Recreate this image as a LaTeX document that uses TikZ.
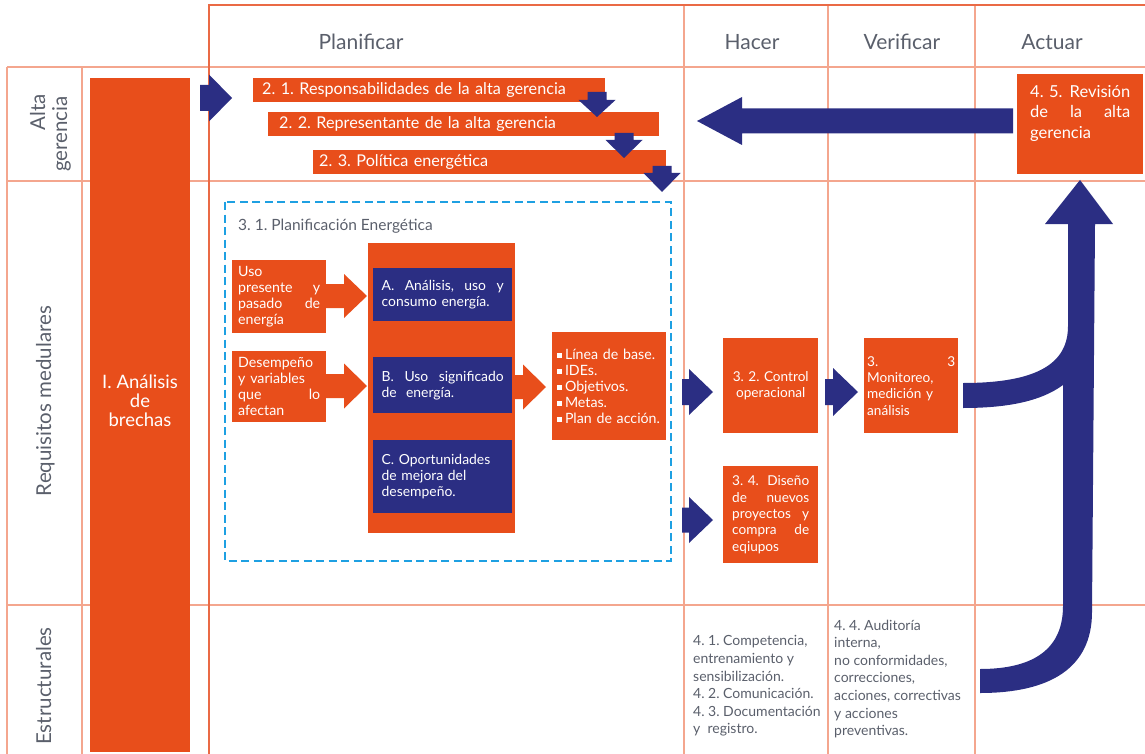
\documentclass[tikz,border=0pt]{standalone}
\usepackage{fontspec}
\setmainfont{Lato}
\frenchspacing
\definecolor{org}{HTML}{E84E1B}
\definecolor{nvy}{HTML}{2B2E83}
\definecolor{grd}{HTML}{F4A68E}
\definecolor{frm}{HTML}{EA6A45}
\definecolor{gry}{HTML}{5A5F6B}
\definecolor{cyn}{HTML}{1EA0E2}
\newcommand\fsHead{\fontsize{21}{24}\selectfont}
\newcommand\fsRow{\fontsize{20.5}{24}\selectfont}
\newcommand\fsTop{\fontsize{16.2}{18}\selectfont}
\newcommand\fsRev{\fontsize{16.5}{20.5}\selectfont}
\newcommand\fsSm{\fontsize{14.2}{16}\selectfont}
\newcommand\fsNv{\fontsize{13.9}{16}\selectfont}
\newcommand\fsCt{\fontsize{13.6}{16.3}\selectfont}
\newcommand\fsBot{\fontsize{14}{17.6}\selectfont}
\newcommand\sqb{\raisebox{1.5pt}{\rule{4.8pt}{4.8pt}}\hspace{3pt}}
% right (or left) block arrow: x0, x1 (head base), xtip, ycenter, shaft half, head half, colour
\newcommand\blkR[7]{\fill[#7] (#1,{#4-#5}) -- (#2,{#4-#5}) -- (#2,{#4-#6}) -- (#3,#4) -- (#2,{#4+#6}) -- (#2,{#4+#5}) -- (#1,{#4+#5}) -- cycle;}
% down block arrow: y0, y1 (head base), ytip, xcenter, shaft half, head half, colour
\newcommand\blkD[7]{\fill[#7] ({#4-#5},#1) -- ({#4+#5},#1) -- ({#4+#5},#2) -- ({#4+#6},#2) -- (#4,#3) -- ({#4-#6},#2) -- ({#4-#5},#2) -- cycle;}
\begin{document}
\begin{tikzpicture}[x=1pt,y=-1pt,
  grid/.style={draw=grd,line width=1.6pt},
  frame/.style={draw=frm,line width=1.8pt},
  ob/.style={fill=org,text=white,inner sep=0pt,anchor=north west},
  nb/.style={fill=nvy,text=white,inner sep=0pt,anchor=north west},
  hd/.style={text=gry,font=\fsHead},
  rl/.style={text=gry,font=\fsRow,rotate=90,anchor=base},
  bt/.style={text=gry,font=\fsBot,inner sep=0pt,anchor=north west,align=left}]
\useasboundingbox (0,0) rectangle (1145,754);
% grid
\draw[grid] (7,67) -- (1145,67);
\draw[grid] (7,181) -- (1145,181);
\draw[grid] (7,605) -- (1145,605);
\draw[grid] (7,67) -- (7,754);
\draw[grid] (82,67) -- (82,754);
\draw[grid] (684,5) -- (684,754);
\draw[grid] (828,5) -- (828,754);
\draw[grid] (975,5) -- (975,754);
\draw[frame] (1145,5) -- (209,5) -- (209,754);
% headers
\node[hd] (hplan) at (361,42) {Planificar};
\node[hd] (hhac) at (752,42) {Hacer};
\node[hd] (hver) at (902,42) {Verificar};
\node[hd] (hact) at (1052,42) {Actuar};
% row labels
\node[rl] (lalta) at (45,112) {Alta};
\node[rl] (lger) at (67,134) {gerencia};
\node[rl] (lreq) at (51,401) {Requisitos medulares};
\node[rl] (lest) at (51,686) {Estructurales};
% gap analysis bar
\node[ob,minimum width=100pt,minimum height=674pt] (bar) at (90,78) {};
\node[text=white,align=center,font=\fontsize{18.5}{19}\selectfont] (bartxt) at (140,401) {I. Análisis\\de\\brechas};
% alta gerencia boxes
\node[ob,minimum width=352pt,minimum height=24pt,text width=334pt,align=left,font=\fsTop] (r21) at (253,78) {2. 1. Responsabilidades de la alta gerencia};
\node[ob,minimum width=391pt,minimum height=24pt,text width=369pt,align=left,font=\fsTop] (r22) at (268,112) {2. 2. Representante de la alta gerencia};
\node[ob,minimum width=353pt,minimum height=24pt,text width=341pt,align=left,font=\fsTop] (r23) at (313,150) {2. 3. Política energética};
\node[ob,minimum width=126pt,minimum height=100pt] (r45) at (1017,74) {};
\node[text=white,inner sep=0pt,anchor=north west,text width=100pt,align=left,font=\fsRev] (r45t) at (1030,85) {4. 5.\hfill Revisión\\de\hfill la\hfill alta\\gerencia};
% arrows alta gerencia
\blkR{200}{209}{232}{98}{13}{23.5}{nvy}
\blkD{92}{100}{117}{597}{9.5}{18.5}{nvy}
\blkD{133}{140}{158}{624}{9.5}{18.5}{nvy}
\blkD{166}{173}{192}{662}{9.5}{18.5}{nvy}
\blkR{1013}{742}{697}{121}{12.5}{24}{nvy}
% planning frame
\draw[cyn,line width=1.6pt,dash pattern=on 8pt off 4.5pt] (225,202) rectangle (671,561);
\node[text=gry,anchor=west,inner sep=0pt,font=\fontsize{15.5}{17}\selectfont] (pe) at (238,226) {3. 1. Planificación Energética};
\node[ob,minimum width=94pt,minimum height=73pt,text width=82pt,align=left,font=\fsSm] (uso) at (232,260) {Uso\\presente\hfill y\\pasado\hfill de\\energía};
\node[ob,minimum width=94pt,minimum height=71pt,text width=82pt,align=left,font=\fsSm] (des) at (232,351) {Desempeño\\y variables\\que\hfill lo\\afectan};
\node[ob,minimum width=147pt,minimum height=290pt] (mid) at (368,243) {};
\node[nb,minimum width=139pt,minimum height=53pt,text width=122pt,align=left,font=\fsNv] (na) at (373,268) {A.\hfill Análisis,\hfill uso\hfill y\\consumo energía.};
\node[nb,minimum width=139pt,minimum height=56pt,text width=122pt,align=left,font=\fsNv] (nbb) at (373,357) {B.\hfill Uso\hfill significado\\de\ \ energía.};
\node[nb,minimum width=139pt,minimum height=73pt,text width=122pt,align=left,font=\fsNv] (nc) at (373,440) {C. Oportunidades\\de mejora del\\desempeño.};
\node[ob,minimum width=114pt,minimum height=108pt,text width=104pt,align=left,font=\fsSm] (lst) at (552,332) {\sqb Línea de base.\\\sqb IDEs.\\\sqb Objetivos.\\\sqb Metas.\\\sqb Plan de acción.};
\blkR{326}{344}{367}{296}{12}{22}{org}
\blkR{326}{344}{367}{386}{12}{22.5}{org}
\blkR{515}{523}{546}{387}{12}{22.5}{org}
% hacer / verificar
\node[ob,minimum width=95pt,minimum height=95pt,text width=85pt,align=center,font=\fsCt] (c32) at (723,338) {3. 2. Control\\operacional};
\node[ob,minimum width=95pt,minimum height=97pt,text width=77pt,align=left,font=\fsCt] (c34) at (723,466) {3. 4.\hfill Diseño\\de\hfill nuevos\\proyectos\hfill y\\compra\hfill de\\eqiupos};
\node[ob,minimum width=94pt,minimum height=95pt,text width=88pt,align=left,font=\fsCt] (c33) at (864,338) {3.\hfill 3\\Monitoreo,\\medición y\\análisis};
\blkR{682}{689}{713}{392}{13}{23}{nvy}
\blkR{682}{689}{713}{520}{12.5}{23}{nvy}
\blkR{825}{833}{858}{392}{13}{24}{nvy}
% big curved arrow
\fill[nvy] (963,383) .. controls (1040,383) and (1068,362) .. (1068,326) -- (1068,224) -- (1045,224) -- (1080,180) -- (1113,224) -- (1095,224) -- (1092,612) .. controls (1092,668) and (1050,693) .. (980,693) -- (980,669) .. controls (1035,669) and (1063,648) .. (1063,606) -- (1063,385) .. controls (1040,402) and (1005,408) .. (963,408) -- cycle;
% structural texts
\node[bt] (s41) at (693,635.5) {4. 1. Competencia,\\entrenamiento y\\sensibilización.\\4. 2. Comunicación.\\4. 3. Documentación\\y\ \ registro.};
\node[bt] (s44) at (834,619.5) {4. 4. Auditoría\\interna,\\no conformidades,\\correcciones,\\acciones, correctivas\\y acciones\\preventivas.};
\end{tikzpicture}
\end{document}
